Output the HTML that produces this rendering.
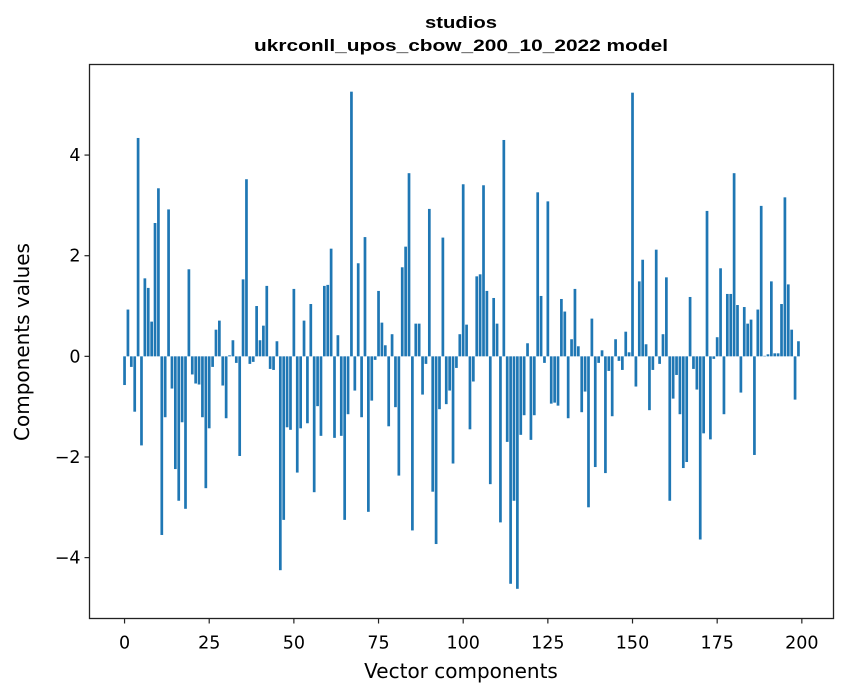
<!DOCTYPE html>
<html><head><meta charset="utf-8"><style>
html,body{margin:0;padding:0;background:#fff;}
svg{display:block;}
text{font-family:"DejaVu Sans","Liberation Sans",sans-serif;fill:#000;}
.title{font-family:"Liberation Sans",Arial,sans-serif;font-weight:bold;font-size:17px;}
</style></head><body>
<svg id="chart" width="847" height="696" viewBox="0 0 847 696" xmlns="http://www.w3.org/2000/svg">
<rect x="0" y="0" width="847" height="696" fill="#fff"/>
<text class="title" x="461" y="28" text-anchor="middle" textLength="72" lengthAdjust="spacingAndGlyphs">studios</text>
<text class="title" x="461" y="51" text-anchor="middle" textLength="414" lengthAdjust="spacingAndGlyphs">ukrconll_upos_cbow_200_10_2022 model</text>
<g id="bars"></g>
<g id="axes"></g>
<text x="461" y="678" text-anchor="middle" font-size="20">Vector components</text>
<text transform="translate(29,342) rotate(-90)" text-anchor="middle" font-size="20">Components values</text>
</svg>
<script>
const values = [
-0.57,0.93,-0.21,-1.1,4.34,-1.77,1.55,1.36,0.69,2.65,
3.34,-3.55,-1.21,2.92,-0.64,-2.24,-2.87,-1.31,-3.03,1.73,
-0.36,-0.54,-0.56,-1.21,-2.62,-1.43,-0.21,0.53,0.71,-0.58,
-1.23,0.02,0.32,-0.13,-1.98,1.53,3.52,-0.15,-0.11,1.0,
0.32,0.61,1.4,-0.25,-0.27,0.30,-4.25,-3.25,-1.41,-1.46,
1.34,-2.31,-1.43,0.71,-1.33,1.04,-2.70,-0.99,-1.58,1.4,
1.42,2.14,-1.62,0.42,-1.58,-3.25,-1.15,5.26,-0.68,1.85,
-1.21,2.37,-3.09,-0.88,-0.07,1.30,0.67,0.22,-1.39,0.44,
-1.01,-2.37,1.77,2.18,3.64,-3.46,0.65,0.65,-0.76,-0.15,
2.93,-2.69,-3.73,-1.05,2.36,-0.95,-0.68,-2.13,-0.23,0.44,
3.42,0.63,-1.45,-0.50,1.59,1.63,3.40,1.30,-2.54,1.16,
0.65,-3.30,4.30,-1.70,-4.52,-2.87,-4.62,-1.56,-1.17,0.26,
-1.66,-1.17,3.26,1.20,-0.13,3.08,-0.94,-0.92,-0.98,1.14,
0.89,-1.23,0.34,1.34,0.20,-1.11,-0.70,-3.00,0.75,-2.20,
-0.13,0.12,-2.32,-0.29,-1.19,0.34,-0.09,-0.27,0.49,0.08,
5.24,-0.60,1.49,1.92,0.24,-1.07,-0.27,2.12,-0.15,0.44,
1.57,-2.87,-0.84,-0.37,-1.15,-2.22,-2.10,1.18,-0.25,-0.66,
-3.64,-1.53,2.89,-1.65,-0.05,0.38,1.75,-1.15,1.24,1.24,
3.64,1.02,-0.72,0.98,0.65,0.73,-1.96,0.93,2.99,0.01,
0.04,1.49,0.06,0.06,1.04,3.16,1.43,0.53,-0.86,0.30
];
const xTicks = [0,25,50,75,100,125,150,175,200];
const yTicks = [-4,-2,0,2,4];
const yTickLabels = ["\u22124","\u22122","0","2","4"];

const L=89.5, R=833.5, T=64.5, B=618.5;
const xMin=-10.35, xMax=209.35, yMin=-5.21, yMax=5.80;
function xs(v){return L+(v-xMin)/(xMax-xMin)*(R-L);}
function ys(v){return B-(v-yMin)/(yMax-yMin)*(B-T);}
const NS="http://www.w3.org/2000/svg";
const bars=document.getElementById('bars');
values.forEach((v,i)=>{
  const r=document.createElementNS(NS,'rect');
  const x0=xs(i-0.4), x1=xs(i+0.4);
  const y0=ys(Math.max(v,0)), y1=ys(Math.min(v,0));
  r.setAttribute('x',x0);r.setAttribute('width',x1-x0);
  r.setAttribute('y',y0);r.setAttribute('height',Math.max(y1-y0,0.3));
  r.setAttribute('fill','#1f77b4');
  
  
  bars.appendChild(r);
});
const axes=document.getElementById('axes');
const frame=document.createElementNS(NS,'rect');
frame.setAttribute('x',L);frame.setAttribute('y',T);
frame.setAttribute('width',R-L);frame.setAttribute('height',B-T);
frame.setAttribute('fill','none');frame.setAttribute('stroke','#222');frame.setAttribute('stroke-width','1.3');


axes.appendChild(frame);
xTicks.forEach(t=>{
  const x=xs(t);
  const l=document.createElementNS(NS,'line');
  l.setAttribute('x1',x);l.setAttribute('x2',x);l.setAttribute('y1',B);l.setAttribute('y2',B+5);
  l.setAttribute('stroke','#222');l.setAttribute('stroke-width','1.2');
  
  
  axes.appendChild(l);
  const tx=document.createElementNS(NS,'text');
  tx.setAttribute('x',x);tx.setAttribute('y',B+30);tx.setAttribute('text-anchor','middle');tx.setAttribute('font-size','17.5');
  tx.textContent=String(t);
  
  
  axes.appendChild(tx);
});
yTicks.forEach((t,i)=>{
  const y=ys(t);
  const l=document.createElementNS(NS,'line');
  l.setAttribute('x1',L-5);l.setAttribute('x2',L);l.setAttribute('y1',y);l.setAttribute('y2',y);
  l.setAttribute('stroke','#222');l.setAttribute('stroke-width','1.2');
  
  
  axes.appendChild(l);
  const tx=document.createElementNS(NS,'text');
  tx.setAttribute('x',L-9);tx.setAttribute('y',y+6);tx.setAttribute('text-anchor','end');tx.setAttribute('font-size','17.5');
  tx.textContent=yTickLabels[i];
  
  
  axes.appendChild(tx);
});
</script>
</body></html>
